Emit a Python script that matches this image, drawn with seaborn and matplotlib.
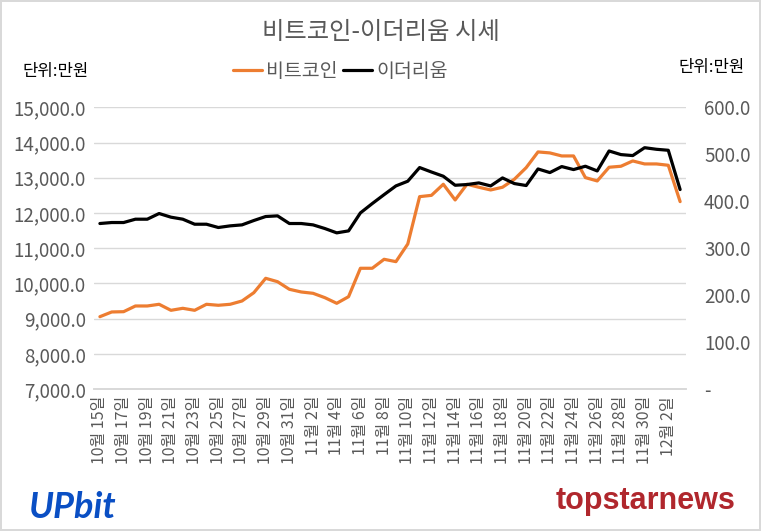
import matplotlib
matplotlib.use("Agg")
import matplotlib.pyplot as plt
import seaborn as sns
import pandas as pd

# ---- data ----
dates = ["10/15","10/16","10/17","10/18","10/19","10/20","10/21","10/22","10/23","10/24",
         "10/25","10/26","10/27","10/28","10/29","10/30","10/31","11/01","11/02","11/03",
         "11/04","11/05","11/06","11/07","11/08","11/09","11/10","11/11","11/12","11/13",
         "11/14","11/15","11/16","11/17","11/18","11/19","11/20","11/21","11/22","11/23",
         "11/24","11/25","11/26","11/27","11/28","11/29","11/30","12/01","12/02","12/03"]
tick_labels = ["10월 15일","10월 17일","10월 19일","10월 21일","10월 23일","10월 25일",
               "10월 27일","10월 29일","10월 31일","11월 2일","11월 4일","11월 6일",
               "11월 8일","11월 10일","11월 12일","11월 14일","11월 16일","11월 18일",
               "11월 20일","11월 22일","11월 24일","11월 26일","11월 28일","11월 30일",
               "12월 2일"]
btc = [9054, 9188, 9196, 9358, 9358, 9406, 9235, 9292, 9235, 9406,
       9378, 9406, 9500, 9736, 10144, 10048, 9832, 9756, 9718, 9594,
       9434, 9622, 10429, 10429, 10684, 10617, 11119, 12463, 12500, 12815,
       12369, 12815, 12730, 12653, 12730, 12957, 13287, 13733, 13705, 13619,
       13619, 13004, 12909, 13298, 13326, 13477, 13392, 13392, 13354, 12322]
eth = [352.5, 354.6, 354.6, 361.7, 361.7, 373.8, 366.0, 361.7, 351.0, 351.0,
       344.0, 347.5, 349.6, 358.9, 367.4, 368.8, 352.5, 352.5, 349.6, 341.8,
       332.6, 336.8, 375.1, 395.0, 414.0, 432.6, 442.6, 471.7, 462.2, 453.2,
       434.0, 435.5, 439.0, 432.6, 449.6, 437.6, 433.4, 468.7, 461.0, 473.8,
       467.4, 474.5, 464.5, 507.0, 499.3, 497.2, 514.0, 510.6, 508.5, 424.9]
left_ticks = [7000, 8000, 9000, 10000, 11000, 12000, 13000, 14000, 15000]
right_ticks = [0, 100, 200, 300, 400, 500, 600]

df = pd.DataFrame({"pos": range(len(dates)), "date": dates, "btc": btc, "eth": eth})

sns.set_theme(style="white")
plt.rcParams["font.family"] = ["Noto Sans CJK KR", "DejaVu Sans"]

ORANGE = "#ED7D31"
GRAY = "#595959"

fig = plt.figure(figsize=(7.61, 5.31), dpi=100)
fig.patch.set_facecolor("white")
fig.patch.set_edgecolor("#d9d9d9")
fig.patch.set_linewidth(1.5)
ax = fig.add_axes([0.1235, 0.2674, 0.778, 0.5305])
ax2 = ax.twinx()

sns.lineplot(data=df, x="pos", y="btc", ax=ax, color=ORANGE, linewidth=2.3, label="비트코인", legend=False)
sns.lineplot(data=df, x="pos", y="eth", ax=ax2, color="black", linewidth=2.3, label="이더리움", legend=False)

ax.set_xlim(-0.5, len(dates) - 0.5)
ax.set_ylim(7000, 15000)
ax2.set_ylim(0, 600)
ax.set_yticks(left_ticks)
ax.set_yticklabels([f"{v:,.1f}" for v in left_ticks], color=GRAY, fontsize=13.5)
ax2.set_yticks(right_ticks)
ax2.set_yticklabels(["-" if v == 0 else f"{v:,.1f}" for v in right_ticks], color=GRAY, fontsize=13.5)
ax.set_xticks(list(range(0, len(dates), 2)))
ax.set_xticklabels(tick_labels, rotation=90, color=GRAY, fontsize=11.5)
ax.set_xlabel("")
ax.set_ylabel("")
ax2.set_ylabel("")

ax.grid(axis="y", color="#d9d9d9", linewidth=1)
ax.set_axisbelow(True)
for a in (ax, ax2):
    for s in ("top", "right", "left"):
        a.spines[s].set_visible(False)
    a.spines["bottom"].set_color("#d9d9d9")
    a.tick_params(length=0)
ax.tick_params(axis="y", pad=6)
ax2.tick_params(axis="y", pad=13)
ax.tick_params(axis="x", pad=5)

fig.text(0.5, 0.94, "비트코인-이더리움 시세", ha="center", va="center", fontsize=17.5, color=GRAY)
fig.text(0.029, 0.866, "단위:만원", ha="left", va="center", fontsize=12, color="black")
fig.text(0.979, 0.872, "단위:만원", ha="right", va="center", fontsize=12, color="black")

h1, l1 = ax.get_legend_handles_labels()
h2, l2 = ax2.get_legend_handles_labels()
fig.legend(h1 + h2, l1 + l2, loc="center", bbox_to_anchor=(0.447, 0.866), ncol=2,
           frameon=False, fontsize=14, handlelength=1.5, handletextpad=0.2,
           columnspacing=0.3, labelcolor=GRAY)

fig.text(0.038, 0.045, "UPbit", ha="left", va="center", fontsize=26, color="#0a4fc4",
         fontweight="bold", fontstyle="italic", family=["Lato", "DejaVu Sans"])
fig.text(0.967, 0.057, "topstarnews", ha="right", va="center", fontsize=22, color="#b0272d",
         fontweight="bold", family=["Liberation Sans Narrow", "Liberation Sans", "DejaVu Sans"])

fig.savefig("out.png", dpi=100)
